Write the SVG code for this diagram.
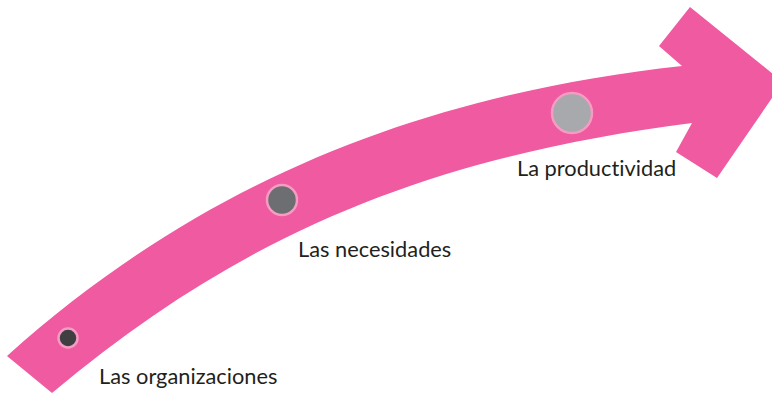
<svg xmlns="http://www.w3.org/2000/svg" width="772" height="395" viewBox="0 0 772 395">
<style>
.band{fill:#ef5aa1;}
.dot{stroke:#f59cc3;stroke-width:2.5;}
.lbl{font-family:Lato,"Noto Sans","Liberation Sans",sans-serif;font-size:21.8px;fill:#231f20;font-variant-ligatures:none;}
</style>
<rect width="772" height="395" fill="#ffffff"/>
<g id="connectors">
<path class="band" d="M7,356 C207,176 432,93.5 682,66 L659,46 L690,7 L783,82 L717,178 L676,152 L692,123 C442,155.5 252,225 52,393 Z"/>
</g>
<g id="node-organizaciones">
<circle class="dot" cx="68" cy="338" r="9.5" fill="#3f3f41"/>
<text class="lbl" x="99" y="384">Las organizaciones</text>
</g>
<g id="node-necesidades">
<circle class="dot" cx="282" cy="200" r="15" fill="#6d6e72"/>
<text class="lbl" x="298" y="257">Las necesidades</text>
</g>
<g id="node-productividad">
<circle class="dot" cx="572" cy="113" r="20" fill="#a7a9ac"/>
<text class="lbl" x="517" y="176">La productividad</text>
</g>
</svg>
